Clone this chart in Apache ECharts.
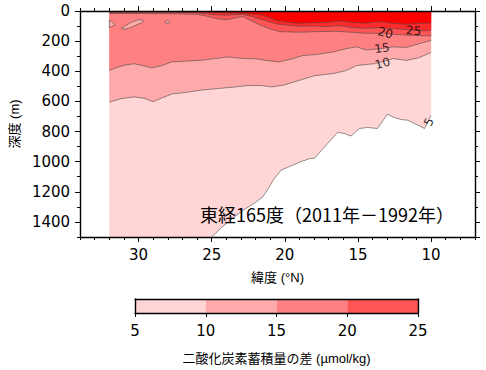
<!DOCTYPE html>
<html><head><meta charset="utf-8">
<script src="https://cdn.jsdelivr.net/npm/echarts@6/dist/echarts.min.js"></script>
<style>html,body{margin:0;padding:0;background:#fff}#c{width:486px;height:370px}</style>
</head><body><div id="c"></div>
<script>
// ---- data: contour lines [latitude (°N), depth (m)] ----
const contour5 = [[32,1650],[25.3,1650],[25.0,1500],[24.3,1435],[23.0,1332],[22.1,1276],[21.5,1233],[21.05,1166],[20.8,1122],[20.25,1056],[19.6,1029],[18.9,1000],[18.3,980],[17.98,978],[17.07,879],[16.39,806],[15.94,813],[15.48,830],[14.9,780],[14.35,773],[13.67,780],[12.99,685],[12.53,707],[12.08,720],[11.6,725],[10.9,758],[10.45,780],[10.0,692]];
const contour10 = [[32,605],[31.2,582],[30.3,570],[29.6,580],[29.0,602],[28.4,577],[27.7,550],[26.8,541],[25.7,525],[24.6,515],[23.4,504],[22.5,494],[21.6,495],[20.9,504],[20.1,492],[19.0,460],[18.0,430],[16.7,415],[15.8,395],[15.1,362],[14.4,355],[13.8,349],[12.6,316],[11.7,328],[10.9,312],[10,276]];
const contour15 = [[32,395],[31.5,375],[31,360],[30.3,350],[29.6,365],[29.1,377],[28.4,362],[27.75,338],[26.85,333],[25.7,327],[24.8,316],[23.9,305],[23.0,314],[21.9,318],[21.3,328],[20.4,338],[19.45,316],[18.8,296],[17.9,289],[16.7,272],[15.8,250],[15.1,238],[14.45,258],[13.4,250],[12.6,238],[11.7,242],[10.85,218],[10,195]];
const contour20 = [[32,17],[30,17],[28,18],[26,22],[25.3,35],[24.7,50],[24,58],[23.3,44],[22.9,37],[22.4,60],[21.7,93],[21.0,119],[20.35,137],[19,141],[17.9,137],[16.5,135],[15.4,141],[14.5,148],[13.1,148],[12.6,155],[11.3,162],[10,165]];
const contour25 = [[32,8],[30,8],[28,9],[26,12],[25.3,18],[24.7,25],[24,28],[23.3,24],[22.9,22],[22.3,35],[21.4,62],[20.5,88],[19.1,101],[18,100],[17.2,104],[16.3,97],[15.4,110],[14.5,115],[13.5,112],[12.6,118],[11.9,121],[11.2,128],[10.4,132],[10,128]];
const contour30 = [[32,3],[30,3],[28,4],[26,5],[24.7,10],[23.7,14],[22.5,18],[21.6,26],[21.0,45],[20.7,60],[20.0,72],[19.1,82],[18.0,78],[17.2,75],[16.3,66],[15.4,75],[14.5,82],[13.5,70],[12.6,82],[11.7,88],[10.8,82],[10,82]];
// closed 15 µmol/kg contours (lower values inside)
const pocketA = [[31.2,117],[30.9,98],[30.5,75],[30.1,60],[29.8,58],[29.65,66],[29.8,78],[30.2,95],[30.6,112],[30.95,121]];
const pocketB = [[28.2,72],[28.1,64],[27.95,64],[27.85,72],[27.95,80],[28.1,80]];
const pocketC = [[32,58],[31.6,90],[32,112]];
// contour labels
const contourLabelText = ['5','10','15','20','25'];
const contourLabelLat = [10.15,13.32,13.36,13.13,11.2];
const contourLabelDepth = [737,347,247,145,131];
// axes
const latLabels = [10,15,20,25,30];
const depthLabels = [0,200,400,600,800,1000,1200,1400];
// colour bar
const colorBarBands = [[5,10],[10,15],[15,20],[20,25]];
const titleText = '東経165度（2011年－1992年）';
const xName = '緯度 (°N)';
const yName = '深度 (m)';
const barName = '二酸化炭素蓄積量の差 (µmol/kg)';

// ---- styles ----
const fillColors = ['#ffd5d5','#ffaaaa','#ff8080','#ff5555','#ff2a2a','#ff0000'];
const pocketColor = '#ffaaaa';
const lineColor = '#4a4a4a';
const labelRot = [63,16,8,-15,-5];
const tickFont = 'DejaVu Sans';
const tickSize = 15;
const cjkFont = 'Liberation Sans, Noto Sans CJK JP';

const chart = echarts.init(document.getElementById('c'), null, {renderer:'svg'});

const black = {color:'#000', width:1.4};
function latAxis(pos, major, showLine, withLabels) {
  const ax = {
    gridIndex:0, type:'value', min:7, max:34, inverse:true, position:pos, z:5,
    axisLine:{show:showLine, onZero:false, lineStyle:black},
    axisTick:{show:true, inside:false, length: major ? 5 : 3, lineStyle:{color:'#000', width:1}},
    axisLabel:{show:false},
    splitLine:{show:false}
  };
  if (major) { ax.axisTick.customValues = latLabels; }
  else { ax.interval = 1; }
  if (withLabels) ax.axisLabel = {show:true, customValues:latLabels, fontSize:tickSize, fontFamily:tickFont, color:'#000', margin:10};
  return ax;
}
function depthAxis(pos, major, showLine, withLabels) {
  return {
    gridIndex:0, type:'value', min:0, max:1500, inverse:true, position:pos, z:5,
    interval: major ? 200 : 100,
    axisLine:{show:showLine, onZero:false, lineStyle:black},
    axisTick:{show:true, inside:false, length: major ? 5 : 3, lineStyle:{color:'#000', width:1}},
    axisLabel: withLabels ? {show:true, showMaxLabel:false, fontSize:tickSize, fontFamily:tickFont, color:'#000', margin:10,
      formatter: v => String(v)} : {show:false},
    splitLine:{show:false}
  };
}

const xMain = latAxis('bottom', true, true, true);
xMain.name = xName; xMain.nameLocation = 'middle'; xMain.nameGap = 34;
xMain.nameTextStyle = {fontSize:13, fontFamily:cjkFont, color:'#000'};
const yMain = depthAxis('left', true, true, true);
yMain.name = yName; yMain.nameLocation = 'middle'; yMain.nameGap = 57;
yMain.nameTextStyle = {fontSize:13, fontFamily:cjkFont, color:'#000'};

const contours = [contour5, contour10, contour15, contour20, contour25, contour30];
const series = contours.map((d, i) => ({
  type:'line', xAxisIndex:0, yAxisIndex:0, data:d, symbol:'none', silent:true, z:1,
  lineStyle:{color:lineColor, width:0.6},
  areaStyle:{color:fillColors[i], opacity:1, origin:'start'}
}));
[pocketA, pocketB, pocketC].forEach(p => {
  series.push({
    type:'custom', xAxisIndex:0, yAxisIndex:0, data:p, silent:true, z:1,
    renderItem:(params, api) => {
      if (params.dataIndex !== 0) return null;
      return {type:'polygon', shape:{points:p.map(q => api.coord(q))},
        style:{fill:pocketColor, stroke:lineColor, lineWidth:0.6}};
    }
  });
});
series.push({
  type:'scatter', xAxisIndex:0, yAxisIndex:0, symbolSize:0, silent:true, z:3,
  data: contourLabelText.map((t, i) => ({value:[contourLabelLat[i], contourLabelDepth[i]], name:t,
    label:{rotate:labelRot[i]}})),
  label:{show:true, position:'inside', formatter:p => p.name, fontSize:12, fontFamily:tickFont, color:'#000'}
});
series.push({
  type:'custom', xAxisIndex:4, yAxisIndex:4, data:colorBarBands, silent:true, z:1,
  renderItem:(params, api) => {
    const a = api.coord([api.value(0), 0]);
    const b = api.coord([api.value(1), 1]);
    return {type:'rect', shape:{x:a[0], y:b[1], width:b[0]-a[0], height:a[1]-b[1]},
      style:{fill:fillColors[params.dataIndex]}};
  }
});

const plain = (pos) => ({gridIndex:1, type:'value', min:0, max:1, position:pos, z:5,
  axisLine:{show:true, onZero:false, lineStyle:black},
  axisTick:{show:false}, axisLabel:{show:false}, splitLine:{show:false}});

chart.setOption({
  animation:false,
  backgroundColor:'#fff',
  title:{text:titleText, left:195, top:200, padding:5,
    textStyle:{fontSize:18, fontWeight:'normal', fontFamily:'Noto Sans CJK JP', color:'#000'}},
  grid:[
    {left:78, top:11, width:397, height:226},
    {left:135, top:299, width:283, height:14}
  ],
  xAxis:[
    xMain,
    latAxis('bottom', false, false, false),
    latAxis('top', true, true, false),
    latAxis('top', false, false, false),
    {gridIndex:1, type:'value', min:5, max:25, interval:5, position:'bottom', z:5,
      axisLine:{show:true, onZero:false, lineStyle:black},
      axisTick:{show:true, length:4, lineStyle:{color:'#000'}},
      axisLabel:{fontSize:tickSize, fontFamily:tickFont, color:'#000', margin:10},
      splitLine:{show:false},
      name:barName, nameLocation:'middle', nameGap:39,
      nameTextStyle:{fontSize:13, fontFamily:cjkFont, color:'#000'}},
    {gridIndex:1, type:'value', min:5, max:25, position:'top', z:5,
      axisLine:{show:true, onZero:false, lineStyle:black},
      axisTick:{show:false}, axisLabel:{show:false}, splitLine:{show:false}}
  ],
  yAxis:[
    yMain,
    depthAxis('left', false, false, false),
    depthAxis('right', true, true, false),
    depthAxis('right', false, false, false),
    plain('left'),
    plain('right')
  ],
  series: series
});
</script></body></html>
